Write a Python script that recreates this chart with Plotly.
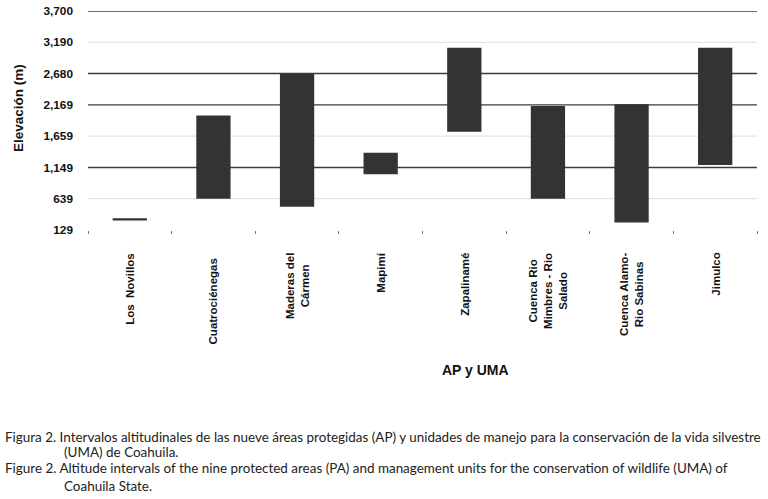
import plotly.graph_objects as go

# ---- data ----
categories = ["Los Novillos", "Cuatrociénegas", "Maderas del Cármen", "Mapimí",
              "Zapalinamé", "Cuenca Rio Mimbres - Rio Salado",
              "Cuenca Alamo-Rio Sabinas", "Jimulco"]
category_labels = ["Los  Novillos", "Cuatrociénegas", "Maderas del<br>Cármen", "Mapimí",
                   "Zapalinamé", "Cuenca Rio<br>Mimbres - Rio<br>Salado",
                   "Cuenca Alamo-<br>Rio Sabinas", "Jimulco"]
elev_min = [285, 640, 510, 1040, 1730, 640, 250, 1190]
elev_max = [320, 1995, 2680, 1390, 3100, 2150, 2180, 3100]
y_ticks = [129, 639, 1149, 1659, 2169, 2680, 3190, 3700]
y_tick_text = ["129", "639", "1,149", "1,659", "2,169", "2,680", "3,190", "3,700"]
dark_grid = [1149, 2169, 2680, 3700]
light_grid = [639, 1659, 3190]

caption_lines = [
    "Figura 2. Intervalos altitudinales de las nueve áreas protegidas (AP) y unidades de manejo para la conservación de la vida silvestre",
    "(UMA) de Coahuila.",
    "Figure 2. Altitude intervals of the nine protected areas (PA) and management units for the conservation of wildlife (UMA) of",
    "Coahuila State.",
]

heights = [hi - lo for lo, hi in zip(elev_min, elev_max)]

fig = go.Figure()
fig.add_trace(go.Bar(
    x=categories, y=heights, base=elev_min, width=0.41,
    marker=dict(color="#333333", line=dict(width=0)),
    hoverinfo="skip",
))

shapes = []
for v in light_grid:
    shapes.append(dict(type="line", xref="paper", x0=0, x1=1, yref="y", y0=v, y1=v,
                       line=dict(color="#e4e4e4", width=1.2), layer="below"))
for v in dark_grid:
    shapes.append(dict(type="line", xref="paper", x0=0, x1=1, yref="y", y0=v, y1=v,
                       line=dict(color="#3c3c3c", width=1.4), layer="below"))

annotations = []
lab_font = dict(family="Liberation Sans", size=11.5, color="#111111")
for cat, lab in zip(categories, category_labels):
    extra = 5 if cat == "Cuatrociénegas" else 0
    annotations.append(dict(
        x=cat, xref="x", y=0, yref="paper", yanchor="top", xanchor="center",
        yshift=-21 - extra, text="<b>" + lab + "</b>", textangle=-90,
        showarrow=False, font=lab_font, align="center"))

annotations.append(dict(
    x=0.5, xref="paper", y=0, yref="paper", xshift=475 - (88 + 669 / 2), yshift=-140,
    yanchor="middle", xanchor="center", text="<b>AP y UMA</b>", showarrow=False,
    font=dict(family="Liberation Sans", size=14, color="#111111")))

annotations.append(dict(
    x=0, xref="paper", y=0, yref="paper", xshift=-70, yshift=230 - 108,
    xanchor="center", yanchor="middle", textangle=-90, text="<b>Elevación (m)</b>",
    showarrow=False,
    font=dict(family="Liberation Sans", size=13.5, color="#111111")))

cap_font = dict(family="Lato", size=13.45, color="#222222")
cap_pos = [(3, 437), (62, 452), (3, 468), (62, 486)]
for (px, py), line in zip(cap_pos, caption_lines):
    annotations.append(dict(
        x=0, xref="paper", y=0, yref="paper", xshift=px - 88, yshift=230 - py,
        xanchor="left", yanchor="middle", text=line, showarrow=False, font=cap_font))

fig.update_layout(
    width=768, height=499,
    margin=dict(l=88, r=11, t=11, b=269, pad=0, autoexpand=False),
    paper_bgcolor="white", plot_bgcolor="white",
    showlegend=False,
    shapes=shapes,
    annotations=annotations,
    xaxis=dict(type="category", range=[-0.5, 7.5], showgrid=False, zeroline=False,
               showline=False, showticklabels=False, ticks="outside", tickson="boundaries",
               ticklen=3, tickcolor="#777777", tickwidth=1, automargin=False),
    yaxis=dict(range=[129, 3700], tickmode="array", tickvals=y_ticks, ticktext=y_tick_text,
               showgrid=False, zeroline=False, showline=False, ticks="",
               ticklabelstandoff=14, automargin=False,
               tickfont=dict(family="Liberation Sans", size=11.8, color="#111111", weight="bold")),
)

fig.write_html("out.html", config={"displayModeBar": False},
               post_script="document.body.style.margin='0';")
